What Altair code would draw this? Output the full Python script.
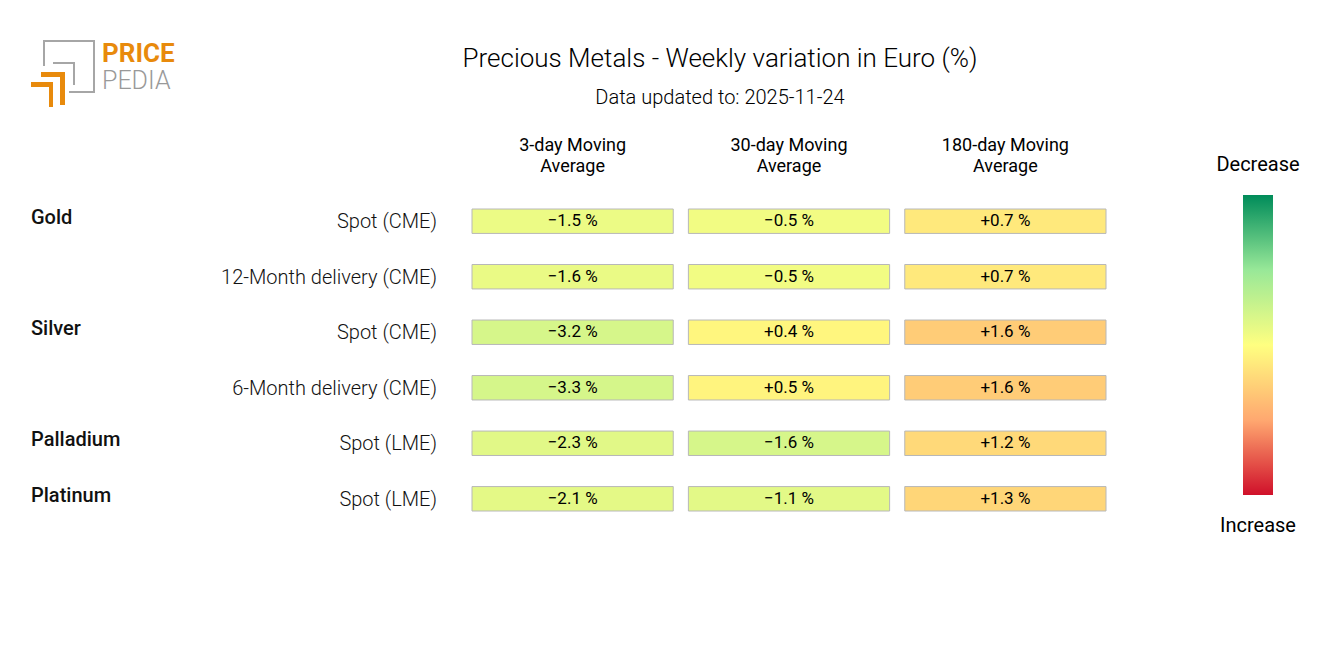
import altair as alt
import pandas as pd

# ---------------- data ----------------
groups = ["Gold", "Gold", "Silver", "Silver", "Palladium", "Platinum"]
contracts = ["Spot (CME)", "12-Month delivery (CME)", "Spot (CME)",
             "6-Month delivery (CME)", "Spot (LME)", "Spot (LME)"]
columns = ["3-day", "30-day", "180-day"]
headers = ["3-day Moving\nAverage", "30-day Moving\nAverage", "180-day Moving\nAverage"]
ma_3 = [-1.5, -1.6, -3.2, -3.3, -2.3, -2.1]
ma_30 = [-0.5, -0.5, 0.4, 0.5, -1.6, -1.1]
ma_180 = [0.7, 0.7, 1.6, 1.6, 1.2, 1.3]
# colour normalisation span for each horizon (value / span -> -1..1)
color_span = [16.0, 8.0, 5.5]

title_text = "Precious Metals - Weekly variation in Euro (%)"
subtitle_text = "Data updated to: 2025-11-24"

FONT = "Roboto"

row_keys = [f"{g}|{c}|{i}" for i, (g, c) in enumerate(zip(groups, contracts))]

rows = []
for ci, (col, vals) in enumerate(zip(columns, [ma_3, ma_30, ma_180])):
    for key, v in zip(row_keys, vals):
        rows.append({"col": col, "row": key, "value": v, "span": color_span[ci]})
cells = pd.DataFrame(rows)

row_df = pd.DataFrame({"row": row_keys, "group": groups, "contract": contracts})
first_of_group = row_df[~row_df["group"].duplicated()]
head_df = pd.DataFrame({"col": columns, "header": headers})

x_scale = alt.Scale(domain=columns, range=[464, 1098], paddingInner=0.07, paddingOuter=0)
y_scale = alt.Scale(domain=row_keys, range=[81, 383], paddingInner=0.56, paddingOuter=0)

X = alt.X("col:N", scale=x_scale, axis=None)
Y = alt.Y("row:N", scale=y_scale, axis=None)

# "decrease score": +1 = strong decrease (green, drawn at the top of the legend)
color_scale = alt.Scale(domain=[-1, -0.5, 0, 0.5, 1],
                        range=["#d0102a", "#ffa870", "#ffff80", "#98e898", "#008c5a"],
                        interpolate="rgb")

rect = alt.Chart(cells).transform_calculate(
    t="clamp(-datum.value / datum.span, -1, 1)"
).mark_rect(stroke="#b8b8b8", strokeWidth=1).encode(
    x=X, y=Y,
    color=alt.Color("t:Q", scale=color_scale,
                    legend=alt.Legend(orient="none", legendX=1235, legendY=67,
                                      direction="vertical", gradientLength=300,
                                      gradientThickness=30, labelExpr="''",
                                      labelOffset=0, labelPadding=0,
                                      title=None, gradientStrokeWidth=0,
                                      padding=0)),
)

cell_text = alt.Chart(cells).transform_calculate(
    label="format(datum.value, '+.1f') + ' %'"
).mark_text(font=FONT, fontSize=17, color="black", baseline="middle").encode(
    x=X, y=Y, text="label:N"
)

head_text = alt.Chart(head_df).mark_text(
    font=FONT, fontSize=18, color="black", baseline="middle", lineBreak="\n", lineHeight=21
).encode(x=X, y=alt.value(17.5), text="header:N")

row_text = alt.Chart(row_df).mark_text(
    font=FONT, fontSize=20, fontWeight=300, color="#111", align="right",
    baseline="middle", dy=1
).encode(x=alt.value(429), y=Y, text="contract:N")

group_text = alt.Chart(first_of_group).mark_text(
    font=FONT, fontSize=20, fontWeight=500, color="#111", align="left",
    baseline="middle", dy=-3
).encode(x=alt.value(23), y=Y, text="group:N")

legend_ends = pd.DataFrame({"t": ["Decrease", "Increase"], "yy": [37, 398]})
legend_text = alt.Chart(legend_ends).mark_text(
    font=FONT, fontSize=20, color="black", align="center", baseline="middle"
).encode(x=alt.value(1250), y=alt.Y("yy:Q", scale=None), text="t:N")

# ---------------- logo (decoration) ----------------
ORANGE = "#e88a0c"
GRAY = "#a6a6a6"
logo_rects = pd.DataFrame([
    {"x": 35, "x2": 87, "y": -88, "y2": -86, "c": GRAY},
    {"x": 85, "x2": 87, "y": -88, "y2": -35, "c": GRAY},
    {"x": 61, "x2": 87, "y": -37, "y2": -35, "c": GRAY},
    {"x": 35, "x2": 37, "y": -88, "y2": -62, "c": GRAY},
    {"x": 45, "x2": 67, "y": -66, "y2": -64, "c": GRAY},
    {"x": 65, "x2": 67, "y": -66, "y2": -43, "c": GRAY},
    {"x": 33, "x2": 57, "y": -56, "y2": -51, "c": ORANGE},
    {"x": 52, "x2": 57, "y": -56, "y2": -23, "c": ORANGE},
    {"x": 23, "x2": 45, "y": -46, "y2": -41, "c": ORANGE},
    {"x": 41, "x2": 45, "y": -46, "y2": -21, "c": ORANGE},
])
logo = alt.Chart(logo_rects).mark_rect().encode(
    x=alt.X("x:Q", scale=None), x2="x2:Q",
    y=alt.Y("y:Q", scale=None), y2="y2:Q",
    color=alt.Color("c:N", scale=None, legend=None),
)
logo_price = alt.Chart(pd.DataFrame({"t": ["PRICE"]})).mark_text(
    font=FONT, fontSize=26, fontWeight=700, color=ORANGE, align="left", baseline="alphabetic"
).encode(x=alt.value(94), y=alt.value(-66), text="t:N")
logo_pedia = alt.Chart(pd.DataFrame({"t": ["PEDIA"]})).mark_text(
    font=FONT, fontSize=25, fontWeight=300, color="#999999", align="left", baseline="alphabetic"
).encode(x=alt.value(94), y=alt.value(-39), text="t:N")

chart = alt.layer(
    rect, cell_text, head_text, row_text, group_text, legend_text,
    logo, logo_price, logo_pedia
).properties(
    width=1304, height=509,
    padding={"left": 0, "top": 120, "right": 0, "bottom": 0},
    autosize=alt.AutoSizeParams(type="none"),
    title=alt.TitleParams(
        text=title_text, subtitle=subtitle_text, anchor="middle", frame="group",
        dx=60, dy=90, offset=22, font=FONT, fontSize=26, fontWeight=300, color="black",
        subtitleFont=FONT, subtitleFontSize=20, subtitleFontWeight=300,
        subtitleColor="black", subtitlePadding=16,
    ),
).resolve_scale(color="independent").configure_view(stroke=None)

chart.save("out.html", embed_options={"renderer": "svg", "actions": False})
